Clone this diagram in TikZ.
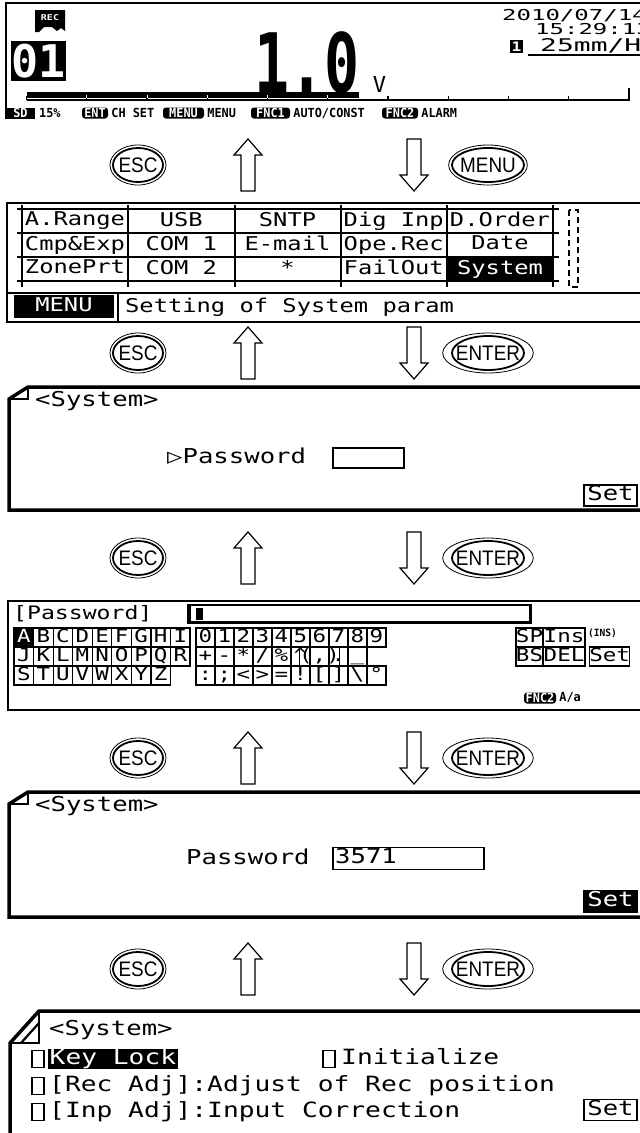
\documentclass[tikz,border=0pt]{standalone}
\usepackage{fontspec}
\setmonofont{DejaVu Sans Mono}
\newfontfamily\lcd{DejaVu Sans Mono}[FakeStretch=1.25]
\newfontfamily\lcdwide{DejaVu Sans Mono}[FakeStretch=1.6]
\newfontfamily\lcdtight{DejaVu Sans Mono}[FakeStretch=0.95]
\newfontfamily\lcdnarrow{DejaVu Sans Mono}[FakeStretch=0.71]
\newfontfamily\keyfont{Liberation Sans}[FakeStretch=0.9]
\usetikzlibrary{shapes.geometric,positioning}

\begin{document}
\begin{tikzpicture}[x=1pt,y=-1pt,
  frame/.style={line width=1.5pt}, heavy/.style={line width=3.5pt},
  fold/.style={line width=2.2pt},
  lcd/.style={font=\lcd\fontsize{#1}{#1}\selectfont,inner sep=0pt,
    execute at begin node=\vphantom{Hg}}, lcd/.default=19,
  wide/.style={font=\lcdwide\fontsize{#1}{#1}\selectfont,inner sep=0pt,
    execute at begin node=\vphantom{Hg}},
  small/.style={font=\lcdtight\bfseries\fontsize{12.5}{12.5}\selectfont,inner sep=0pt,
    execute at begin node=\vphantom{H}},
  badge/.style={small,fill=black,text=white,rounded corners=3pt,minimum height=11pt},
  inv/.style={fill=black,text=white},
  keycap/.style={ellipse,draw,line width=0.8pt,inner sep=0pt,minimum height=40pt,
    font=\keyfont\fontsize{21}{21}\selectfont},
  blk/.style={draw,line width=1.2pt,fill=white},
  cell/.style={draw,line width=1.2pt,minimum width=19pt,minimum height=19pt,inner sep=0pt,
    font=\lcd\fontsize{18}{18}\selectfont,execute at begin node=\vphantom{Hg}},
  chk/.style={draw,line width=1.3pt,minimum width=12pt,minimum height=17pt,inner sep=0pt},
  setbox/.style={lcd=20.5,draw,line width=1.5pt,minimum width=53pt,minimum height=21pt}]
  \useasboundingbox (0,0) rectangle (640,1133);

  % trend screen
  \draw[frame] (641,3) -- (6,3) -- (6,119);
  \fill (35,10) -- (65,10) -- (65,31) -- (61,28) -- (57,31) -- (52,27) -- (44,27)
    -- (39,32) -- (35,32) -- cycle;
  \node[font=\lcd\bfseries\fontsize{8}{8}\selectfont,text=white,inner sep=0pt] (rec) at (50,18) {REC};
  \node[inv,font=\ttfamily\bfseries\fontsize{45}{45}\selectfont,inner xsep=0pt,inner ysep=2.5pt]
    (chan) at (38.5,61) {01};
  \node[font=\lcdnarrow\bfseries\fontsize{82}{82}\selectfont,inner sep=0pt] (val) at (307,62.5) {1.0};
  \node[font=\ttfamily\fontsize{22}{22}\selectfont,inner sep=0pt] (unit) at (379.5,84) {V};
  \fill (26.5,92) rectangle (359,97.5);
  \draw[line width=1.2pt] (26.5,100) -- (629,100) -- (629,88);
  \foreach \k in {0,...,10} \draw[line width=1.2pt] (26.5+60.25*\k,100) -- ++(0,-4);
  \foreach \k in {1,...,5} \draw[white,line width=1pt] (26.5+60.25*\k,97.6) -- ++(0,-3);
  \node[wide=15,anchor=west] (date) at (502,16.5) {2010/07/14};
  \node[wide=15,anchor=west] (time) at (535,31) {15:29:13};
  \node[inv,font=\lcd\bfseries\fontsize{13}{13}\selectfont,minimum size=13pt,inner sep=0pt]
    (pen) at (516.5,46.5) {1};
  \node[wide=17.5,anchor=west] (speed) at (540,46.5) {25mm/H};
  \draw[line width=1.2pt] (528,55) -- (641,55);
  \node[inv,small,minimum width=29pt,minimum height=11pt] (sd) at (20.5,113) {SD};
  \node[small,anchor=west] (sdpct) at (39,113) {15\%};
  \node[badge,minimum width=26pt] (bent) at (95,113) {ENT};
  \node[small,right=3pt of bent] (lent) {CH SET};
  \node[badge,minimum width=41pt] (bmenu) at (183.5,113) {MENU};
  \node[small,right=3pt of bmenu] (lmenu) {MENU};
  \node[badge,minimum width=39pt] (bfa) at (270.5,113) {FNC1};
  \node[small,right=3pt of bfa] (lfa) {AUTO/CONST};
  \node[badge,minimum width=36pt] (bfb) at (400,113) {FNC2};
  \node[small,right=3pt of bfb] (lfb) {ALARM};

  % menu screen
  \draw[frame] (641,203) -- (7,203) -- (7,322) -- (641,322);
  \draw[frame] (7,293) -- (641,293);
  \foreach \yy in {209,233,257,281} \draw[line width=1.2pt] (17,\yy) -- (559,\yy);
  \foreach \xx in {22,128,235,341,447,553} \draw[line width=1.2pt] (\xx,205) -- (\xx,287);
  \fill (447.6,257.6) rectangle (552.4,280.4);
  \foreach \t [count=\i from 0] in {A.Range,USB,SNTP,Dig Inp,D.Order}
    \node[lcd] (ma\i) at (75+106.25*\i,221) {\t};
  \foreach \t [count=\i from 0] in {Cmp\&Exp,COM 1,E-mail,Ope.Rec,Date}
    \node[lcd] (mb\i) at (75+106.25*\i,245) {\t};
  \foreach \t [count=\i from 0] in {ZonePrt,COM 2,*,FailOut}
    \node[lcd] (mc\i) at (75+106.25*\i,269) {\t};
  \node[lcd,text=white] (mc4) at (500,269) {System};
  \draw[line width=2.6pt,dash pattern=on 6pt off 4pt] (569,210) rectangle (578,287);
  \node[lcd,inv,minimum width=100pt,minimum height=23pt] (mnu) at (64,306.5) {MENU};
  \draw[frame] (118,293) -- (118,322);
  \node[lcd,anchor=west] (hint) at (125,307) {Setting of System param};

  % password prompt
  \draw[heavy] (641,387) -- (28,387) -- (9,399) -- (9,510) -- (641,510);
  \draw[fold] (28,387) -- (28,399) -- (9,399);
  \node[lcd=20.5,anchor=west] (sysa) at (35,401) {<System>};
  \node[lcd=20.5,anchor=west] (pwa) at (167,458) {▷Password};
  \node[draw,line width=1.5pt,minimum width=71pt,minimum height=20pt] (pwboxa) at (368.5,458) {};
  \node[setbox] (seta) at (610.5,495.5) {Set};

  % character entry
  \draw[frame] (641,601) -- (8,601) -- (8,710) -- (641,710);
  \node[lcd=18.5,anchor=west] (pwlabel) at (13,614) {[Password]};
  \draw[line width=1.5pt] (188,605) rectangle (531,623);
  \draw[line width=3pt] (189,605) -- (189,622) -- (530,622) -- (530,605);
  \fill (196,608) rectangle (203,620);
  \node[cell,minimum width=19.6pt,inv] (kA) at (23.8,637.5) {A};
  \foreach \c [count=\i from 1] in {B,C,D,E,F,G,H,I}
    \node[cell,minimum width=19.6pt] (ka\i) at (23.8+19.56*\i,637.5) {\c};
  \foreach \c [count=\i from 0] in {J,K,L,M,N,O,P,Q,R}
    \node[cell,minimum width=19.6pt] (kb\i) at (23.8+19.56*\i,656.5) {\c};
  \foreach \c [count=\i from 0] in {S,T,U,V,W,X,Y,Z}
    \node[cell,minimum width=19.6pt] (kc\i) at (23.8+19.56*\i,675.5) {\c};
  \foreach \c [count=\i from 0] in {0,1,2,3,4,5,6,7,8,9}
    \node[cell] (da\i) at (205.5+19*\i,637.5) {\c};
  \foreach \c [count=\i from 0] in {+,-,*,/,\%,\textasciicircum,(,),.,\_}
    \node[cell] (db\i) at (205.5+19*\i,656.5) {\c};
  \foreach \c [count=\i from 0] in {:,;,<,>,=,!,[,],\textbackslash,°}
    \node[cell] (dc\i) at (205.5+19*\i,675.5) {\c};
  \node[cell,minimum width=27pt] (sp) at (529.5,637.5) {SP};
  \node[cell,minimum width=42pt,right=-1.2pt of sp] (ins) {Ins};
  \node[small,font=\lcdtight\bfseries\fontsize{10}{10}\selectfont,anchor=north west]
    (insmode) at (588,629) {(INS)};
  \node[cell,minimum width=27pt] (bs) at (529.5,656.5) {BS};
  \node[cell,minimum width=42pt,right=-1.2pt of bs] (del) {DEL};
  \node[cell,minimum width=33pt,right=3pt of del] (setk) {Set};
  \node[badge,minimum width=32pt] (bfc) at (540,698) {FNC2};
  \node[small,right=3pt of bfc] (case) {A/a};

  % password entered
  \draw[heavy] (641,792) -- (28,792) -- (9,804) -- (9,917) -- (641,917);
  \draw[fold] (28,792) -- (28,804) -- (9,804);
  \node[lcd=20.5,anchor=west] (sysb) at (35,806) {<System>};
  \node[lcd=20.5,anchor=west] (pwb) at (186,858.5) {Password};
  \node[draw,line width=1.5pt,minimum width=151pt,minimum height=22pt] (pwboxb) at (408.5,858.5) {};
  \node[lcd=20.5,anchor=west] (pwval) at (335,858.5) {3571};
  \node[setbox,inv] (setb) at (610.5,901.5) {Set};

  % system settings
  \draw[heavy] (641,1011) -- (39,1011) -- (10,1043) -- (10,1140);
  \draw[fold] (39,1011) -- (39,1043) -- (10,1043);
  \draw[fold] (39,1023) -- (21,1043);
  \node[lcd=20.5,anchor=west] (sysc) at (49,1030) {<System>};
  \node[chk] (cba) at (38,1059) {};
  \node[lcd=21,inv,anchor=west,inner xsep=1.5pt] (klock) at (48,1059) {Key Lock};
  \node[chk] (cbb) at (329,1059) {};
  \node[lcd=21,anchor=west] (init) at (341,1059) {Initialize};
  \node[chk] (cbc) at (38,1086) {};
  \node[lcd=21,anchor=west] (recadj) at (49,1086) {[Rec Adj]:Adjust of Rec position};
  \node[chk] (cbd) at (38,1112) {};
  \node[lcd=21,anchor=west] (inpadj) at (49,1112) {[Inp Adj]:Input Correction};
  \node[setbox] (setc) at (610.5,1110) {Set};

  % keys and block arrows between the screens
  \foreach \y/\k in {165/MENU,353/ENTER,558/ENTER,758/ENTER,969/ENTER} {
    \node[keycap,minimum width=56pt] (esc\y) at (138,\y) {ESC};
    \draw[line width=1.8pt] (esc\y.center) ellipse (25 and 17);
    \node[keycap,minimum width=78pt] (go\y) at (488,\y) {\k};
    \draw[line width=1.8pt] (go\y.center) ellipse (36 and 17);
    \draw[blk] (241,\y+26) -- (241,\y-10) -- (234,\y-10) -- (248,\y-26) -- (262,\y-10)
      -- (255,\y-10) -- (255,\y+26) -- cycle;
    \draw[blk] (407,\y-26) -- (407,\y+10) -- (400,\y+10) -- (414,\y+26) -- (428,\y+10)
      -- (421,\y+10) -- (421,\y-26) -- cycle;
  }
\end{tikzpicture}
\end{document}
